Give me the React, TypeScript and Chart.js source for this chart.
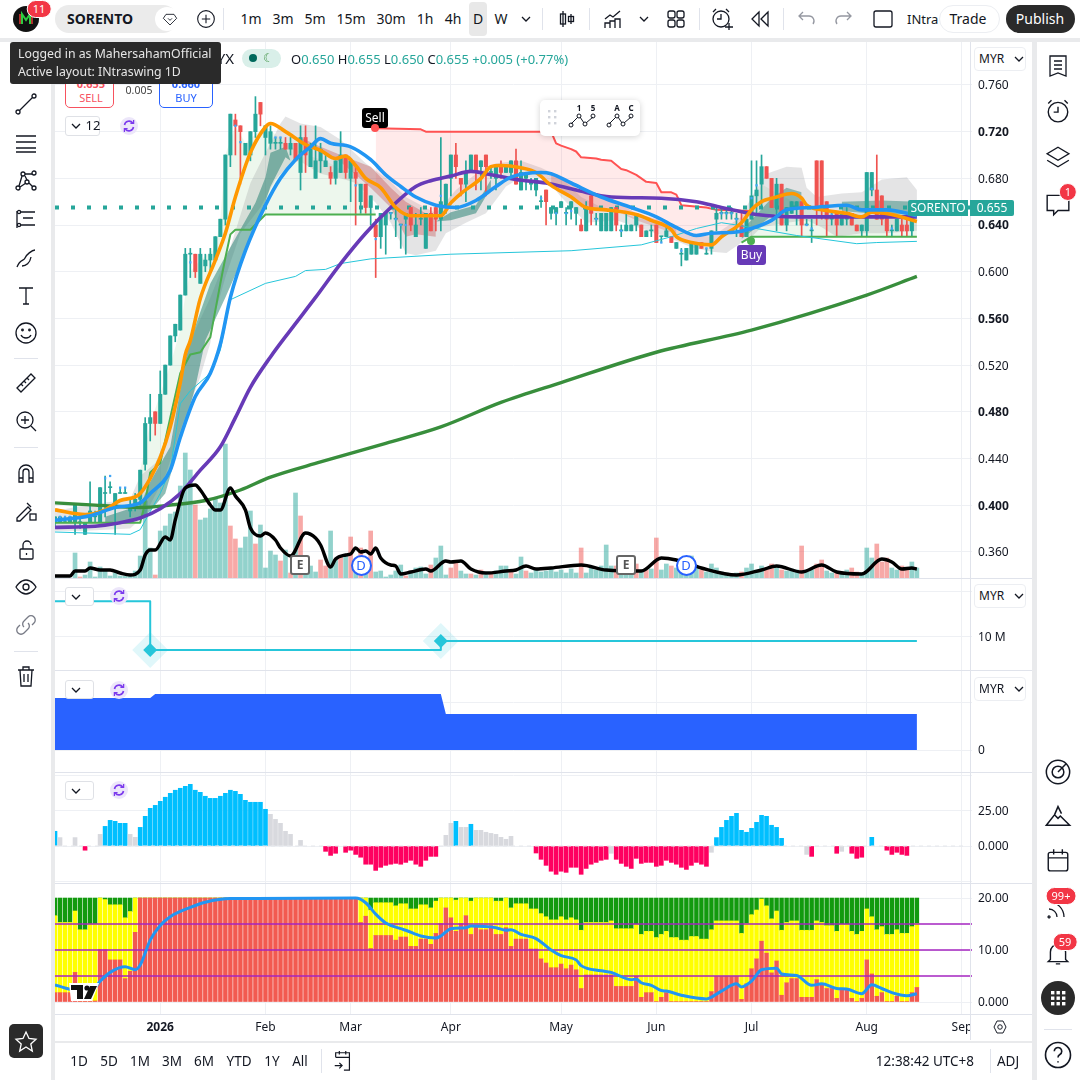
import React, { useEffect, useRef } from "react";
import { Chart, registerables } from "chart.js";

Chart.register(...registerables);

const F = "'Noto Sans', sans-serif";
const BAR_COUNT = 173;
const AXIS_SLOTS = 184;

const slotLabels = Array.from({ length: AXIS_SLOTS }, (_, i) => String(i));
const monthK = [21, 42, 59, 79, 101, 120, 139, 162, 181];
const monthLabels = ["2026", "Feb", "Mar", "Apr", "May", "Jun", "Jul", "Aug", "Sep"];
const priceTicks = [0.76, 0.72, 0.68, 0.64, 0.6, 0.56, 0.52, 0.48, 0.44, 0.4, 0.36];
const boldPriceTicks = [0.72, 0.64, 0.56, 0.48, 0.4];
const lastPrice = 0.655;

const opens = [
  .385,.385,.385,.385,.385,.385,.375,.385,.39,.385,
  .41,.415,.398,.41,.41,.395,.40,.405,.435,.47,
  .48,.47,.495,.52,.545,.55,.58,.615,.615,.59,
  .605,.61,.61,.63,.645,.70,.73,.725,.70,.70,
  .72,.745,.715,.71,.71,.71,.71,.705,.71,.685,
  .715,.69,.68,.695,.69,.685,.68,.685,.70,.68,
  .685,.66,.675,.655,.64,.63,.64,.65,.645,.64,
  .645,.655,.63,.645,.62,.65,.655,.645,.655,.68,
  .70,.68,.675,.685,.70,.69,.70,.685,.68,.69,
  .685,.685,.695,.67,.68,.675,.67,.66,.67,.65,
  .65,.655,.65,.655,.65,.64,.635,.665,.645,.635,
  .635,.635,.655,.635,.635,.635,.64,.64,.63,.635,
  .64,.63,.63,.63,.62,.615,.61,.615,.615,.625,
  .615,.62,.645,.65,.65,.65,.645,.64,.63,.645,
  .665,.675,.69,.68,.655,.675,.64,.65,.655,.66,
  .64,.635,.695,.695,.66,.645,.65,.64,.645,.65,
  .64,.635,.635,.67,.67,.665,.65,.635,.635,.64,
  .64,.635,.65,
];
const highs = [
  .39,.39,.39,.39,.40,.39,.385,.42,.395,.415,
  .425,.42,.41,.415,.415,.405,.41,.43,.475,.495,
  .48,.515,.52,.545,.555,.58,.62,.62,.615,.62,
  .615,.62,.63,.645,.70,.735,.735,.725,.71,.72,
  .75,.745,.725,.725,.715,.715,.715,.715,.71,.725,
  .725,.71,.725,.71,.70,.69,.695,.72,.70,.695,
  .69,.675,.675,.665,.645,.65,.65,.65,.655,.64,
  .65,.655,.65,.655,.65,.655,.655,.715,.675,.70,
  .71,.68,.695,.70,.70,.695,.70,.69,.69,.695,
  .69,.695,.705,.695,.685,.68,.68,.665,.67,.655,
  .655,.66,.655,.66,.655,.645,.66,.665,.65,.65,
  .65,.655,.655,.64,.65,.64,.65,.64,.635,.64,
  .64,.63,.64,.63,.625,.62,.62,.625,.625,.625,
  .62,.635,.655,.655,.655,.655,.65,.65,.65,.695,
  .695,.70,.69,.68,.68,.675,.655,.66,.66,.66,
  .645,.645,.695,.695,.66,.65,.65,.65,.655,.65,
  .64,.64,.685,.685,.70,.665,.65,.64,.645,.645,
  .645,.65,.655,
];
const lows = [
  .38,.385,.385,.385,.375,.38,.375,.385,.385,.385,
  .39,.41,.375,.41,.41,.39,.395,.40,.43,.455,
  .46,.47,.495,.52,.54,.55,.58,.595,.595,.59,
  .60,.60,.61,.63,.64,.69,.70,.675,.70,.695,
  .715,.725,.70,.705,.705,.705,.705,.70,.695,.67,
  .685,.69,.68,.685,.69,.675,.675,.685,.68,.66,
  .64,.65,.65,.64,.595,.62,.615,.645,.63,.62,
  .615,.635,.63,.64,.62,.635,.635,.635,.65,.665,
  .68,.665,.66,.685,.67,.67,.665,.68,.67,.68,
  .685,.68,.675,.67,.67,.67,.665,.655,.64,.645,
  .64,.655,.64,.645,.64,.635,.635,.64,.64,.635,
  .635,.635,.635,.63,.635,.635,.635,.63,.63,.63,
  .625,.625,.63,.625,.62,.605,.61,.615,.615,.62,
  .615,.615,.635,.645,.645,.645,.63,.63,.63,.645,
  .65,.655,.68,.655,.635,.64,.635,.65,.64,.63,
  .64,.625,.64,.645,.63,.64,.63,.64,.64,.64,
  .635,.63,.63,.665,.645,.64,.63,.63,.635,.63,
  .63,.63,.65,
];
const closes = [
  .39,.39,.385,.39,.40,.385,.385,.395,.39,.415,
  .41,.415,.41,.41,.41,.40,.405,.43,.47,.475,
  .47,.495,.52,.545,.555,.58,.615,.615,.60,.615,
  .61,.615,.63,.645,.70,.735,.725,.72,.71,.72,
  .735,.735,.725,.72,.71,.71,.705,.71,.695,.715,
  .70,.705,.695,.705,.695,.68,.695,.70,.685,.695,
  .68,.675,.655,.665,.63,.65,.65,.65,.645,.64,
  .65,.64,.64,.645,.65,.635,.645,.66,.675,.70,
  .69,.675,.685,.70,.685,.695,.69,.685,.69,.685,
  .69,.695,.675,.685,.685,.675,.68,.66,.66,.655,
  .655,.66,.65,.66,.655,.635,.655,.65,.645,.65,
  .65,.655,.64,.635,.64,.64,.65,.63,.635,.635,
  .625,.63,.635,.625,.625,.615,.62,.625,.625,.62,
  .615,.635,.65,.65,.65,.65,.645,.63,.645,.665,
  .67,.69,.68,.655,.675,.64,.655,.66,.66,.64,
  .64,.635,.655,.655,.645,.645,.64,.65,.65,.64,
  .635,.64,.685,.685,.645,.645,.635,.635,.645,.635,
  .635,.65,.655,
];

const volumes = [
  0,0,0,0,25,1,3,16,1,11, 8,2,5,2,2,4,7,22,77,30,
  3,47,52,64,66,92,125,108,73,58, 60,69,80,75,134,52,39,30,41,67,
  34,53,10,27,23,17,28,5,85,62, 5,12,6,18,12,47,18,22,22,41,
  10,30,5,47,6,7,1,3,7,13, 2,5,10,11,4,13,20,32,3,10,
  15,7,4,4,3,8,3,5,7,12, 12,7,4,21,7,5,8,6,7,10,
  6,8,5,9,5,30,5,10,8,12, 33,12,12,8,18,10,14,6,8,9,
  40,8,14,12,10,6,16,22,10,8, 6,14,10,6,5,4,5,6,10,14,
  8,12,10,14,12,8,7,9,8,32, 6,8,14,18,7,5,6,6,8,10,
  6,5,30,20,34,16,20,10,8,12, 8,16,10,
];
const volumeRedK = [5,20,28,35,36,40,45,47,49,53,54,57,59,61,63,70,75,79,80,83,85,87,91,94,105,112,116,118,120,123,129,137,142,143,145,149,152,153,156,159,160,164,165,166,169,170];

const orangeK = [0,6,10,13,16,17,19,21,23,25,26,27,29,32,34,36,39,42,43,46,50,53,56,58,60,62,65,68,71,77,79,81,85,87,89,93,96,99,103,106,110,116,119,123,124,127,131,133,137,139,141,144,147,149,150,153,158,161,163,167,172];
const orangeV = [.396,.392,.396,.404,.407,.41,.423,.441,.467,.505,.529,.541,.577,.61,.633,.664,.702,.724,.727,.72,.709,.704,.697,.699,.691,.68,.672,.655,.648,.648,.659,.667,.68,.69,.691,.689,.685,.674,.664,.655,.653,.649,.644,.636,.63,.625,.623,.63,.642,.653,.66,.664,.667,.663,.657,.653,.65,.647,.651,.649,.643];
const blueK = [0,7,12,17,19,23,25,28,31,33,35,38,42,45,48,51,53,55,59,63,66,69,72,76,80,84,88,91,97,99,103,109,115,120,124,128,131,136,139,143,146,151,158,161,166,172];
const blueV = [.387,.391,.398,.402,.41,.43,.458,.493,.513,.538,.578,.618,.657,.68,.696,.707,.714,.71,.707,.696,.683,.673,.664,.657,.655,.661,.673,.681,.685,.684,.676,.664,.655,.647,.638,.631,.633,.634,.637,.644,.653,.655,.657,.653,.653,.648];
const purpleK = [0,8,13,17,21,25,29,33,36,39,43,47,52,57,62,67,72,75,79,83,86,92,98,104,111,121,128,133,140,148,172];
const purpleV = [.381,.382,.385,.389,.397,.41,.43,.45,.475,.501,.527,.55,.578,.607,.633,.655,.673,.678,.682,.686,.684,.679,.676,.67,.664,.663,.66,.655,.649,.647,.647];
const greenMaK = [0,8,17,23,30,37,43,53,66,77,89,101,120,139,162,172];
const greenMaV = [.402,.40,.398,.40,.404,.413,.424,.437,.453,.467,.488,.505,.531,.55,.58,.596];
const cyanK = [0,15,17,21,23,25,27,31,33,35,42,48,50,54,57,63,79,103,117,123,128,133,136,148,160,164,172];
const cyanV = [.377,.375,.379,.41,.43,.487,.498,.513,.533,.576,.59,.596,.601,.602,.607,.611,.615,.618,.623,.63,.637,.642,.64,.631,.624,.625,.626];
const stepAK = [0,17,18,19,21,23,25,27,29,31,33,34,35,36,39,42,64];
const stepAV = [.385,.385,.402,.428,.436,.475,.513,.529,.531,.544,.59,.612,.632,.636,.636,.649,.649];
const stepBK = [137,139,172];
const stepBV = [.625,.63,.63];
const trendTopAK = [17,19,21,23,25,26,27,29,32,33,34,36,38,42,46,50,54,58,60,62,64];
const trendTopAV = [.43,.47,.495,.52,.55,.58,.60,.61,.62,.645,.70,.725,.71,.725,.71,.70,.695,.685,.68,.665,.65];
const trendTopBK = [138,141,145,150,155,162,172];
const trendTopBV = [.64,.675,.665,.655,.65,.65,.648];
const redLineK = [64,73,74,99,100,101,103,104,105,108,109,111,113,114,116,118,120,121,123,124,125,130,132,139];
const redLineV = [.723,.722,.72,.72,.71,.708,.705,.703,.698,.697,.696,.695,.688,.687,.683,.677,.676,.668,.668,.666,.657,.655,.653,.652];

const grayUpK = [0,6,15,17,20,23,25,28,31,35,39,42,45,46,49,53,57,62,67,70,76,80,84,88,93,97,101,105,110,122,127,131,137,139,142,146,149,150,152,157,161,165,170,172];
const grayUpV = [.395,.40,.405,.425,.436,.464,.513,.55,.578,.621,.676,.702,.727,.733,.727,.724,.713,.693,.677,.664,.65,.67,.684,.693,.695,.689,.681,.664,.653,.64,.632,.63,.647,.664,.684,.69,.689,.672,.664,.667,.668,.679,.681,.67];
const grayLoK = [0,6,15,18,22,25,29,31,32,34,37,41,44,48,53,57,60,64,67,70,72,76,78,82,86,90,93,98,101,106,112,122,127,131,134,137,139,141,146,150,153,156,161,166,172];
const grayLoV = [.378,.378,.38,.392,.425,.464,.51,.539,.565,.595,.633,.655,.679,.697,.684,.68,.676,.659,.642,.616,.614,.618,.633,.642,.65,.673,.681,.68,.664,.642,.644,.63,.621,.617,.616,.625,.63,.638,.642,.644,.638,.63,.633,.633,.635];

const tealUpK = [10,17,19,23,26,27,31,35,40,42,43,46,47];
const tealUpV = [.39,.40,.42,.45,.524,.541,.59,.621,.659,.681,.702,.707,.695];
const tealLoK = [10,17,19,22,25,28,30,34,37,41,43,46,47];
const tealLoV = [.385,.388,.395,.41,.455,.501,.541,.578,.607,.647,.673,.698,.695];
const teal2UpK = [76,79,84,87];
const teal2UpV = [.643,.651,.657,.679];
const teal2LoK = [76,79,84,87];
const teal2LoV = [.643,.644,.65,.672];
const teal3UpK = [137,143,146,149];
const teal3UpV = [.635,.663,.672,.668];
const teal3LoK = [137,143,146,149];
const teal3LoV = [.628,.648,.653,.655];
const teal4UpK = [157,165,172];
const teal4UpV = [.66,.661,.66];
const teal4LoK = [157,165,172];
const teal4LoV = [.652,.649,.649];
const redBandUpK = [49,53,57,63,67,70,72,76];
const redBandUpV = [.715,.707,.70,.69,.672,.66,.655,.645];
const redBandLoK = [49,53,57,63,67,70,72,76];
const redBandLoV = [.713,.702,.694,.672,.655,.63,.632,.63];
const redBand2UpK = [99,103,105,112,116,124];
const redBand2UpV = [.684,.676,.668,.66,.65,.64];
const redBand2LoK = [99,103,105,112,116,124];
const redBand2LoV = [.676,.664,.655,.652,.644,.632];

const blueDotK = [1,2,3,7,10,11,13,14,27,36,37,44,45,60,64,67,68,69,70,77,97,100,102,103,108,113,121,125,130,133,134,135,136,139,140,150,151,155,163,167];
const blueDotV = [.39,.39,.39,.40,.423,.425,.415,.415,.608,.725,.711,.715,.715,.674,.628,.65,.645,.64,.64,.665,.663,.65,.65,.652,.645,.635,.625,.618,.62,.65,.65,.65,.645,.663,.674,.64,.637,.649,.671,.637];

const moneyK = [0,3,4,6,7,9,11,13,15,17,18,19,20,22,23,24,26,28,29,31,32,33,35,36,38,39,41,42,44,45,47,50,52,53,55,56,58,59,60,61,62,63,64,65,67,68,69,71,74,75,78,79,81,83,86,90,92,94,96,99,105,110,117,121,124,129,136,141,144,149,153,156,161,165,167,169,171,172];
const moneyV = [2,2,7,7,10,8,8,5,3,8,23,28,28,41,38,58,90,93,88,73,68,68,90,82,68,50,42,45,38,30,22,45,40,33,11,19,23,24,30,26,27,24,30,20,13,12,4,6,9,7,17,16,17,9,5,7,8,12,9,10,13,8,7,20,18,10,3,8,12,6,13,6,4,19,16,9,10,9];

const insiderK = [0,19,77,172];
const insiderV = [15.5,8,9.4,9.4];
const insiderMarkK = [19,77];
const insiderMarkV = [8,9.4];
const areaK = [0,19,20,77,78,172];
const areaV = [52,52,56,56,36,36];

const histogram = [
  10.5,6,null,null,6,null,-3,null,null,8.3, 14,18.3,17.6,16.2,16.2,8.3,6.2,13.3,21.2,26.9,
  29,31.9,34.8,37.6,39.8,41.2,42.6,44,39.8,38.3, 35.5,34,34,35.5,37.6,39.8,39,36.9,32.6,31.2,
  31.2,31.2,26.2,22.6,19,16.2,10.5,8.3,null,4, null,null,null,null,-3.8,-6.7,-5.2,null,-4.5,-3,
  -6,-8,-13,-13,-17.4,-15.2,-13.8,-13,-12.4,-13, -11.7,-10.2,-13,-14.5,-10.2,-7.4,-7.4,null,7.6,16.2,
  17.6,13.3,13.3,15.5,11.2,11.2,9.8,9,8.3,6.2, 4.8,6.9,null,null,null,null,-5,-9.5,-13.8,-18,
  -20.2,-18,-18.8,-15.2,-15.2,-20.2,-16,-13,-11.7,-10.2, -9.5,-5.2,-9.5,-12.4,-14.5,-16,-8.8,-12.4,-11.7,-11.7,
  -14.5,-13.8,-10.2,-11.7,-13,-15.2,-16.7,-13.8,-11.7,-13, -14.5,-4.5,6,13.3,18.3,21.2,23.3,11.2,9.8,12.6,
  16.9,21.9,21.2,14.8,13.3,5.5,null,null,null,null, -6,-7.4,null,null,null,null,-5.2,-3.8,null,-5.2,
  -8.8,-8,null,6.2,null,null,-3,-6,-4.5,-6, -6.7,null,null,
];
const histogramGrayK = [1,4,9,15,16,43,44,45,46,47,49,78,79,81,82,84,85,86,87,88,89,90,91,111,131,150,157];

const redLevel = [
  1.8,1.8,1.8,1.8,5.7,.2,.2,.2,.2,10.1, 10.1,8.1,8.1,8.1,4.5,5.9,13.4,20,20,20,
  20,20,20,20,20,20,20,20,20,20, 20,20,20,20,20,20,20,20,20,20,
  20,20,20,20,20,20,20,20,20,20, 20,20,20,20,20,20,20,20,20,20,
  20,15.3,16.5,10.3,12.8,12.8,12.8,12.8,11.9,12.5, 12.5,10.7,10.7,12.1,12.1,11.1,13.2,15.1,18.1,16.2,
  13.6,15.1,16.6,13,14.7,13.9,13.9,14.7,13,13, 14.3,10.7,12.1,12.1,12.1,10.2,10.2,8.3,7.5,6.6,
  6.6,7.3,6.4,7.1,6.2,2.6,5.2,5.2,5.2,5.2, 5.2,5.2,3,3,3,3,4.9,.9,1.8,1.8,
  .1,.9,1.8,.1,.1,.1,.1,.1,.1,.1, .1,2,4.9,4.9,4.9,4.9,4.9,.5,3.5,6.4,
  8.3,11.7,9.4,5.6,7.9,1.3,3.7,4.5,4.5,.9, .9,.9,4.3,3.3,2.6,2.6,.7,2.6,2.6,.7,
  .1,.7,8.1,5.4,1.1,1.8,.1,.1,1.1,.1, .1,1.8,2.8,
];
const yellowLevel = [
  16.6,15.3,15.3,15.3,17.5,13.9,13.9,15,15,20, 19.7,18.7,18.7,18.7,16.2,17.4,20,20,20,20,
  20,20,20,20,20,20,20,20,20,20, 20,20,20,20,20,20,20,20,20,20,
  20,20,20,20,20,20,20,20,20,20, 20,20,20,20,20,20,20,20,20,20,
  20,20,20,17.7,19.1,19.1,19.1,19.1,18.5,18.9, 18.9,17.9,17.9,18.7,18.7,18.1,19.4,20,20,20,
  19.6,20,20,19.4,20,20,20,20,19.4,19.4, 20,18.1,18.9,18.9,18.9,17.9,17.9,17,16.4,15.8,
  15.8,16.4,15.8,16.2,15.8,13.8,15.3,15.3,15.3,15.3, 15.3,15.6,14.1,14.1,14.1,14.1,14.9,13,13.6,13.6,
  12.4,13,13.6,12.4,12.4,11.9,11.9,12.6,12.6,12.1, 12.1,13.9,15.6,15.6,15.6,15.6,15.6,13.2,15.1,16.8,
  17.7,19.8,18.5,16,17.5,13.8,15.3,15.6,15.6,13.8, 13.8,13.8,15.6,15.3,14.7,14.7,13.6,14.9,14.9,13.6,
  13,13.6,17.9,16.4,13.9,14.5,13,13,13.9,13.2, 13.2,14.5,15.1,
];
const levelTop = 20;
const pressureK = [0,2,7,9,11,14,16,17,19,21,23,27,30,35,40,60,62,64,66,69,70,73,76,77,79,82,83,88,90,91,93,96,99,101,104,105,109,111,115,116,117,119,121,122,125,130,133,136,137,139,141,144,145,148,151,153,156,158,161,163,165,167,170,172];
const pressureV = [3.3,2.7,1.8,4,5.7,6.8,6.2,7.1,11.9,14.7,16.4,18.2,19.2,19.9,19.9,20,19.1,16.9,15.2,14.1,13.8,12.7,12.3,12.7,14.1,14.3,14.6,14.3,13.8,13.9,13,12.2,10,8.9,8.1,7,6,5.7,4.3,4.4,3.7,3.2,2.2,2.1,1.3,.6,2.1,3.5,2.9,4,6.2,6.5,5.4,5.1,3.2,3.5,2.6,2.5,1.6,3.3,2.6,1.8,1.2,1.6];
const levelLines = [5, 10, 15];

const gridColor = "#eef0f4";
const textColor = "#131722";

function keyed(k: number[], v: number[]) {
  const out: (number | null)[] = new Array(BAR_COUNT).fill(null);
  k.forEach((kk, i) => { out[kk] = v[i]; });
  return out;
}
function flat(value: number, n: number) {
  return new Array(n).fill(value);
}
function ln(data: any[], color: string, width: number, order: number, extra: any = {}) {
  return { type: "line", data, borderColor: color, borderWidth: width, pointRadius: 0, spanGaps: true, fill: false, order, cubicInterpolationMode: "monotone", borderJoinStyle: "round", ...extra };
}
function band(upK: number[], upV: number[], loK: number[], loV: number[], color: string, order: number) {
  const hidden = { borderColor: "transparent", borderWidth: 0, cubicInterpolationMode: "default", tension: 0 };
  return [
    ln(keyed(upK, upV), "transparent", 0, order, { ...hidden, fill: { target: "+1", above: color, below: color } }),
    ln(keyed(loK, loV), "transparent", 0, order, hidden),
  ];
}
function noPadding(s: any) {
  s.paddingTop = 0;
  s.paddingBottom = 0;
  s.paddingLeft = 0;
  s.paddingRight = 0;
}

function xScale(showLabels: boolean) {
  return {
    type: "category",
    labels: slotLabels,
    offset: false,
    grid: { color: gridColor, offset: false, drawTicks: false, lineWidth: 1 },
    border: { display: false },
    afterBuildTicks: (s: any) => { s.ticks = monthK.map((value) => ({ value })); },
    afterFit: (s: any) => { s.height = showLabels ? 25 : 0; noPadding(s); },
    ticks: {
      display: showLabels,
      autoSkip: false,
      maxRotation: 0,
      minRotation: 0,
      padding: 5,
      color: textColor,
      font: (ctx: any) => ({ family: F, size: 12, weight: ctx.tick && ctx.tick.value === monthK[0] ? "bold" : "normal" }),
      callback: (v: any) => monthLabels[monthK.indexOf(v)] ?? "",
    },
  };
}
function yScale(min: number, max: number, tickVals: number[], label: (v: number) => string, bold?: (v: number) => boolean) {
  return {
    type: "linear",
    position: "right",
    min,
    max,
    grid: { color: gridColor, drawTicks: false, lineWidth: 1 },
    border: { display: false },
    afterBuildTicks: (s: any) => { s.ticks = tickVals.map((value) => ({ value })); },
    afterFit: (s: any) => { s.width = 60; noPadding(s); },
    ticks: {
      padding: 6,
      labelOffset: 1,
      color: textColor,
      autoSkip: false,
      font: (ctx: any) => ({ family: F, size: 12, weight: bold && ctx.tick && bold(ctx.tick.value) ? "bold" : "normal" }),
      callback: (v: any) => label(v),
    },
  };
}
function baseOptions(x: any, scales: any) {
  return {
    responsive: false,
    animation: false as const,
    events: [] as any[],
    layout: { autoPadding: false, padding: 0 },
    plugins: { legend: { display: false }, tooltip: { enabled: false } },
    scales: { x, ...scales },
  };
}

function priceDatasets() {
  const green = "#26a69a";
  const red = "#ef5350";
  const cColor = closes.map((c, i) => (c >= opens[i] ? green : red));
  const ds: any[] = [];
  ds.push({ type: "bar", data: volumes, yAxisID: "yVol", grouped: false, barThickness: 4, order: 40,
    backgroundColor: volumes.map((_, i) => (volumeRedK.includes(i) ? "rgba(239,83,80,.5)" : "rgba(38,166,154,.5)")) });
  ds.push(...band(grayUpK, grayUpV, grayLoK, grayLoV, "rgba(130,130,135,.22)", 34));
  ds.push(ln(keyed(trendTopAK, trendTopAV), "transparent", 0, 35, { tension: 0, cubicInterpolationMode: "default", fill: { target: "+1", above: "rgba(76,175,80,.1)", below: "rgba(76,175,80,.1)" } }));
  ds.push(ln(keyed(stepAK, stepAV), "#4caf50", 2, 12, { cubicInterpolationMode: "default", tension: 0 }));
  ds.push(ln(keyed(trendTopBK, trendTopBV), "transparent", 0, 35, { tension: 0, cubicInterpolationMode: "default", fill: { target: "+1", above: "rgba(76,175,80,.1)", below: "rgba(76,175,80,.1)" } }));
  ds.push(ln(keyed(stepBK, stepBV), "#4caf50", 2, 12, { cubicInterpolationMode: "default", tension: 0 }));
  ds.push(...band(tealUpK, tealUpV, tealLoK, tealLoV, "rgba(30,125,110,.5)", 32));
  ds.push(...band(teal2UpK, teal2UpV, teal2LoK, teal2LoV, "rgba(30,125,110,.5)", 32));
  ds.push(...band(teal3UpK, teal3UpV, teal3LoK, teal3LoV, "rgba(30,125,110,.45)", 32));
  ds.push(...band(teal4UpK, teal4UpV, teal4LoK, teal4LoV, "rgba(30,125,110,.45)", 32));
  ds.push(...band(redBandUpK, redBandUpV, redBandLoK, redBandLoV, "rgba(190,60,60,.33)", 32));
  ds.push(...band(redBand2UpK, redBand2UpV, redBand2LoK, redBand2LoV, "rgba(190,60,60,.22)", 32));
  ds.push(ln(flat(lastPrice, AXIS_SLOTS), "#26a69a", 4, 24, { borderDash: [4, 12], cubicInterpolationMode: "default", borderCapStyle: "butt" }));
  ds.push({ type: "bar", data: lows.map((l, i) => [l, highs[i]]), grouped: false, barThickness: 1, backgroundColor: cColor, order: 21 });
  ds.push({ type: "bar", data: opens.map((o, i) => [Math.min(o, closes[i]), Math.max(o, closes[i])]), grouped: false, barThickness: 3.4, minBarLength: 1, backgroundColor: cColor, order: 20 });
  ds.push(ln(keyed(blueDotK, blueDotV), "#42a5f5", 0, 18, { showLine: false, pointRadius: 1.6, pointStyle: "rect", pointBackgroundColor: "#42a5f5", pointBorderWidth: 0 }));
  ds.push(ln(keyed(cyanK, cyanV), "#26c6da", 1, 11, { cubicInterpolationMode: "default", tension: 0 }));
  ds.push(ln(keyed(greenMaK, greenMaV), "#388e3c", 3.4, 9));
  ds.push(ln(keyed(purpleK, purpleV), "#673ab7", 3.6, 8));
  ds.push(ln(keyed(orangeK, orangeV), "#ff9800", 3.6, 7));
  const orangeIndex = ds.length - 1;
  ds.push(ln(keyed(blueK, blueV), "#2196f3", 3.6, 6));
  ds.push(ln(keyed(redLineK, redLineV), "#ff5252", 2, 33, { cubicInterpolationMode: "default", tension: 0, fill: { target: orangeIndex, above: "rgba(255,82,82,.12)", below: "rgba(255,82,82,.12)" } }));
  ds.push(ln(keyed(moneyK, moneyV), "#000000", 3.4, 5, { yAxisID: "yVol" }));
  return ds;
}

function createCharts(c: HTMLCanvasElement[]) {
  const charts: Chart[] = [];
  charts.push(new Chart(c[0], {
    type: "bar",
    data: { labels: slotLabels, datasets: priceDatasets() as any },
    options: baseOptions(xScale(false), {
      y: yScale(0.3376, 0.7968, priceTicks, (v) => v.toFixed(3), (v) => boldPriceTicks.some((b) => Math.abs(b - v) < 1e-6)),
      yVol: { type: "linear", display: false, min: 0, max: 536 },
    }) as any,
  }));
  charts.push(new Chart(c[1], {
    type: "line",
    data: { labels: slotLabels, datasets: [
      ln(keyed(insiderMarkK, insiderMarkV), "transparent", 0, 3, { showLine: false, pointRadius: 7, pointStyle: "rectRot", pointBackgroundColor: "#26c6da", pointBorderWidth: 0 }),
      ln(keyed(insiderMarkK, insiderMarkV), "transparent", 0, 5, { showLine: false, pointRadius: 18, pointStyle: "rectRot", pointBackgroundColor: "rgba(38,198,218,.14)", pointBorderWidth: 0 }),
      ln(keyed(insiderK, insiderV), "#26c6da", 2, 4, { stepped: "before", cubicInterpolationMode: "default" }),
    ] as any },
    options: baseOptions(xScale(false), { y: yScale(4.92, 18.92, [17, 10], (v) => (v === 10 ? "10 M" : "")) }) as any,
  }));
  charts.push(new Chart(c[2], {
    type: "line",
    data: { labels: slotLabels, datasets: [
      ln(keyed(areaK, areaV), "#2962ff", 0, 1, { fill: "origin", backgroundColor: "#2962ff", cubicInterpolationMode: "default", tension: 0 }),
    ] as any },
    options: baseOptions(xScale(false), { y: yScale(-22, 79, [48, 0], (v) => (v === 0 ? "0" : "")) }) as any,
  }));
  charts.push(new Chart(c[3], {
    type: "bar",
    data: { labels: slotLabels, datasets: [
      { type: "bar", data: histogram, barThickness: 4, grouped: false, order: 2,
        backgroundColor: histogram.map((v, i) => (histogramGrayK.includes(i) ? "#d8d9de" : (v ?? 0) >= 0 ? "#00bfff" : "#ff0060")) },
      ln(flat(0, 183), "#e4e6ea", 1, 1, { borderDash: [4, 4], cubicInterpolationMode: "default" }),
    ] as any },
    options: baseOptions(xScale(false), { y: yScale(-26.4, 52.1, [50, 25, 0, -25], (v) => (v === 25 ? "25.00" : v === 0 ? "0.000" : "")) }) as any,
  }));
  const levelDs: any[] = [
    { type: "bar", data: redLevel.map((v) => [0, v]), backgroundColor: "#f25a50", barThickness: 3.8, grouped: false, order: 6 },
    { type: "bar", data: redLevel.map((v, i) => [v, yellowLevel[i]]), backgroundColor: "#ffff00", barThickness: 3.8, grouped: false, order: 6 },
    { type: "bar", data: yellowLevel.map((v) => [v, levelTop]), backgroundColor: "#129a0e", barThickness: 3.8, grouped: false, order: 6 },
  ];
  levelLines.forEach((v) => levelDs.push(ln(flat(v, AXIS_SLOTS), "#a424c0", 1.5, 3, { cubicInterpolationMode: "default" })));
  levelDs.push(ln(keyed(pressureK, pressureV), "#2196f3", 3, 1));
  charts.push(new Chart(c[4], {
    type: "bar",
    data: { labels: slotLabels, datasets: levelDs },
    options: baseOptions(xScale(true), { y: yScale(-2.5, 22.7, [20, 10, 0], (v) => (v === 20 ? "20.00" : v === 10 ? "10.00" : "0.000")) }) as any,
  }));
  return charts;
}

const T = ({ x, y, children, size = 13, color = textColor, weight = 400, anchor = "center", bg }: any) => (
  <div style={{
    position: "absolute", left: x, top: y, fontFamily: F, fontSize: size, color, fontWeight: weight, whiteSpace: "nowrap", background: bg,
    transform: `translate(${anchor === "center" ? "-50%" : anchor === "end" ? "-100%" : "0"},-50%)`, lineHeight: 1.2,
  }}>{children}</div>
);
const Box = ({ x, y, w, h, style }: any) => <div style={{ position: "absolute", left: x, top: y, width: w, height: h, boxSizing: "border-box", ...style }} />;
const Ic = ({ x, y, size = 24, children, stroke = "#131722", sw = 1.3, fill = "none" }: any) => (
  <svg width={size} height={size} viewBox="0 0 24 24" style={{ position: "absolute", left: x - size / 2, top: y - size / 2 }} fill={fill} stroke={stroke} strokeWidth={sw}>{children}</svg>
);
const Chevron = ({ x, y }: any) => (
  <svg width="10" height="6" viewBox="0 0 10 6" style={{ position: "absolute", left: x - 5, top: y - 3 }} fill="none" stroke="#131722" strokeWidth="1.3"><path d="M1 1l4 4 4-4" /></svg>
);
const Sync = ({ x, y }: any) => (
  <svg width="18" height="18" viewBox="0 0 18 18" style={{ position: "absolute", left: x - 9, top: y - 9 }} fill="none">
    <circle cx="9" cy="9" r="9" fill="#ece6fa" />
    <path d="M4.5 8a4.6 4.6 0 0 1 8.2-2M13.5 10a4.6 4.6 0 0 1-8.2 2" stroke="#7c3aed" strokeWidth="1.6" />
    <path d="M13.6 3v3.4h-3.2M4.4 15v-3.4h3.2" stroke="#7c3aed" strokeWidth="1.3" />
  </svg>
);
const Collapse = ({ x, y, w = 29, h = 19, text }: any) => (
  <>
    <Box x={x} y={y} w={w} h={h} style={{ background: "#fff", border: "1px solid #dfe1e6", borderRadius: 3 }} />
    <Chevron x={x + 11} y={y + h / 2} />
    {text && <T x={x + 28} y={y + h / 2} size={13}>{text}</T>}
  </>
);
const Myr = ({ y }: any) => (
  <>
    <Box x={974} y={y} w={52} h={24} style={{ background: "#fff", border: "1px solid #eceef2", borderRadius: 4 }} />
    <T x={979} y={y + 12} size={12} anchor="start">MYR</T>
    <Chevron x={1019} y={y + 12} />
  </>
);
const Wave = ({ x, a, b }: any) => (
  <>
    <svg width="30" height="16" viewBox="0 0 30 16" style={{ position: "absolute", left: x, top: 112 }} fill="none" stroke="#131722" strokeWidth="1">
      <path d="M3 12L10 5M12 5L16 11M18 11L25 5" />
      <circle cx="3" cy="13" r="2" /><circle cx="11" cy="4" r="2" /><circle cx="17" cy="12" r="2" /><circle cx="25" cy="4" r="2" />
    </svg>
    <T x={x + 11} y={108} size={8} weight={700}>{a}</T>
    <T x={x + 25} y={108} size={8} weight={700}>{b}</T>
  </>
);
const Badge = ({ x, y, text }: any) => (
  <div style={{ position: "absolute", left: x, top: y, transform: "translate(-50%,-50%)", background: "#f23645", color: "#fff", borderRadius: 9, fontFamily: F, fontSize: 11, padding: "0 5px", lineHeight: "16px", border: "1px solid #fff" }}>{text}</div>
);

const PANES = [
  { top: 42, h: 536 },
  { top: 579, h: 91 },
  { top: 671, h: 101 },
  { top: 773, h: 110 },
  { top: 884, h: 156 },
];

export default function App() {
  const refs = useRef<(HTMLCanvasElement | null)[]>([]);
  useEffect(() => {
    const charts = createCharts(refs.current as HTMLCanvasElement[]);
    return () => charts.forEach((c) => c.destroy());
  }, []);
  const sep = "#e9eaec";
  const timeframes: [string, number][] = [["1m", 251], ["3m", 283], ["5m", 315], ["15m", 351], ["30m", 391], ["1h", 425], ["4h", 453], ["D", 478], ["W", 501]];
  const ranges: [string, number][] = [["1D", 79], ["5D", 109], ["1M", 140], ["3M", 172], ["6M", 204], ["YTD", 239], ["1Y", 272], ["All", 300]];
  return (
    <div style={{ position: "fixed", left: 0, top: 0, width: 1080, height: 1080, background: "#fff", overflow: "hidden" }}>
      {PANES.map((p, i) => (
        <canvas key={i} ref={(el) => { refs.current[i] = el; }} width={977} height={p.h} style={{ position: "absolute", left: 55, top: p.top, width: 977, height: p.h, display: "block" }} />
      ))}

      {/* frame */}
      <Box x={0} y={38} w={1080} h={4} style={{ background: sep }} />
      <Box x={51} y={42} w={4} h={1038} style={{ background: sep }} />
      <Box x={1032} y={42} w={5} h={1038} style={{ background: sep }} />
      <Box x={970} y={42} w={1} h={998} style={{ background: "#e0e3eb" }} />
      {[578, 670, 772, 883].map((y) => <Box key={y} x={55} y={y} w={977} h={1} style={{ background: "#e0e3eb" }} />)}
      <Box x={55} y={1014} w={977} h={1} style={{ background: "#e0e3eb" }} />
      <Box x={55} y={1041} w={977} h={2} style={{ background: sep }} />
      <Box x={971} y={1015} w={61} h={26} style={{ background: "#fff" }} />
      <Ic x={1000} y={1027} size={18}><path d="M8 4h8l4 8-4 8H8l-4-8z" /><circle cx="12" cy="12" r="3" /></Ic>

      {/* top toolbar */}
      <svg width="28" height="28" viewBox="0 0 28 28" style={{ position: "absolute", left: 12, top: 5 }}>
        <circle cx="14" cy="14" r="13" fill="#111" />
        <path d="M8 9v10M20 9v10" stroke="#e53935" strokeWidth="1.5" /><path d="M10 19V9l4 6 4-6v10" stroke="#2ecc40" strokeWidth="2" fill="none" />
      </svg>
      <Badge x={39} y={9} text="11" />
      <Box x={55} y={5} w={122} h={28} style={{ background: "#ebebeb", borderRadius: 14 }} />
      <T x={67} y={19} size={14} weight={700} anchor="start">SORENTO</T>
      <Box x={155} y={7} w={24} h={24} style={{ background: "#fff", borderRadius: 12 }} />
      <Ic x={170} y={19} size={16}><path d="M6 5h12l4 6-10 10L2 11z" /><path d="M9 11l3 3 3-3" /></Ic>
      <Ic x={206} y={19} size={20}><circle cx="12" cy="12" r="10" /><path d="M12 7v10M7 12h10" /></Ic>
      <Box x={223} y={8} w={1} h={22} style={{ background: "#e0e3eb" }} />
      <Box x={469} y={2} w={18} h={34} style={{ background: "#e8e8e8", borderRadius: 4 }} />
      {timeframes.map(([t, x]) => <T key={t} x={x} y={19} size={14}>{t}</T>)}
      <Chevron x={526} y={19} />
      <Box x={542} y={8} w={1} h={22} style={{ background: "#e0e3eb" }} />
      <Ic x={567} y={19}><path d="M8 4v16M16 7v10" /><rect x="5.5" y="7" width="5" height="10" /><rect x="13.5" y="9.5" width="5" height="5" /></Ic>
      <Box x={589} y={8} w={1} h={22} style={{ background: "#e0e3eb" }} />
      <Ic x={613} y={19}><path d="M4 12l5-4 3 2 7-6" /><path d="M4 21v-5h5v5M9 21v-7h5v7M14 21v-9h5v9" /></Ic>
      <Chevron x={644} y={19} />
      <Ic x={676} y={19}><rect x="4" y="4" width="7" height="7" rx="2" /><rect x="13" y="4" width="7" height="7" rx="2" /><rect x="4" y="13" width="7" height="7" rx="2" /><rect x="13" y="13" width="7" height="7" rx="2" /></Ic>
      <Box x={699} y={8} w={1} h={22} style={{ background: "#e0e3eb" }} />
      <Ic x={722} y={19}><circle cx="11" cy="12" r="8" /><path d="M11 7v5H7M3 5l3-3M19 5l-3-3M19 16v7M15 20h8" /></Ic>
      <Ic x={760} y={19}><path d="M11 5l-7 7 7 7zM20 5l-7 7 7 7z" /></Ic>
      <Box x={783} y={8} w={1} h={22} style={{ background: "#e0e3eb" }} />
      <Ic x={806} y={19} stroke="#9598a1"><path d="M5 9h10a5 5 0 0 1 4 8M9 5L5 9l4 4" /></Ic>
      <Ic x={844} y={19} stroke="#9598a1"><path d="M19 9H9a5 5 0 0 0-4 8M15 5l4 4-4 4" /></Ic>
      <Ic x={883} y={19}><rect x="3" y="4" width="18" height="16" rx="2" /></Ic>
      <div style={{ position: "absolute", left: 907, top: 10, width: 31, overflow: "hidden", fontFamily: F, fontSize: 13, color: textColor, whiteSpace: "nowrap", lineHeight: "18px" }}>INtraswing</div>
      <Box x={939} y={5} w={61} h={28} style={{ background: "#fff", border: "1px solid #eceef2", borderRadius: 14 }} />
      <T x={968} y={19} size={14}>Trade</T>
      <Box x={1006} y={5} w={69} h={28} style={{ background: "#2a2a2a", borderRadius: 14 }} />
      <T x={1040} y={19} size={14} color="#fff">Publish</T>

      {/* legend */}
      <T x={234} y={58} size={15} anchor="end">YX</T>
      <Box x={242} y={49} w={39} h={19} style={{ background: "#d9efe9", borderRadius: 10 }} />
      <Box x={249} y={54} w={8} h={8} style={{ background: "#00695c", borderRadius: 4 }} />
      <T x={268} y={58} size={12} color="#388e3c">☾</T>
      <div style={{ position: "absolute", left: 291, top: 50, fontFamily: F, fontSize: 13, lineHeight: "18px", whiteSpace: "nowrap", color: "#26a69a" }}>
        <span style={{ color: textColor }}>O</span>0.650 <span style={{ color: textColor }}>H</span>0.655 <span style={{ color: textColor }}>L</span>0.650 <span style={{ color: textColor }}>C</span>0.655 +0.005 (+0.77%)
      </div>

      {/* buy / sell */}
      <Box x={65} y={72} w={49} h={36} style={{ background: "#fff", border: "1px solid #f7525f", borderRadius: 5 }} />
      <T x={91} y={98} size={11} color="#f7525f">SELL</T>
      <T x={91} y={84} size={11} color="#f7525f" weight={700}>0.655</T>
      <T x={139} y={90} size={10.5} color="#444">0.005</T>
      <Box x={159} y={72} w={54} h={36} style={{ background: "#fff", border: "1px solid #2962ff", borderRadius: 5 }} />
      <T x={186} y={98} size={11} color="#2962ff">BUY</T>
      <T x={186} y={84} size={11} color="#2962ff" weight={700}>0.660</T>

      {/* tooltip */}
      <Box x={10} y={42} w={211} h={42} style={{ background: "#2a2a2a", borderRadius: 3 }} />
      <T x={18} y={54} size={12.3} color="#e6e6e6" anchor="start">Logged in as MahersahamOfficial</T>
      <T x={18} y={72} size={12.3} color="#e6e6e6" anchor="start">Active layout: INtraswing 1D</T>

      {/* pane controls */}
      <Collapse x={65} y={116} w={35} h={20} text="12" />
      <Sync x={129} y={126} />
      <Collapse x={65} y={587} />
      <Sync x={119} y={596} />
      <Collapse x={65} y={680} />
      <Sync x={119} y={690} />
      <Collapse x={65} y={781} />
      <Sync x={119} y={790} />
      <Myr y={47} />
      <Myr y={584} />
      <Myr y={677} />

      {/* floating drawing bar */}
      <Box x={540} y={100} w={100} h={36} style={{ background: "#fff", borderRadius: 5, boxShadow: "0 1px 6px rgba(0,0,0,.18)" }} />
      <svg width="12" height="16" viewBox="0 0 12 16" style={{ position: "absolute", left: 546, top: 110 }} fill="#d0d3da">
        {[0, 6, 12].map((y) => [2, 8].map((x) => <rect key={x + "-" + y} x={x} y={y} width="2.4" height="2.4" />))}
      </svg>
      <Wave x={568} a="1" b="5" />
      <Wave x={606} a="A" b="C" />

      {/* markers */}
      <Box x={362} y={108} w={26} h={20} style={{ background: "#000", borderRadius: 3 }} />
      <T x={375} y={118} size={12} color="#fff">Sell</T>
      <Box x={371} y={124} w={8} h={8} style={{ background: "#ff5252", borderRadius: 4 }} />
      <Box x={747} y={237} w={8} h={8} style={{ background: "#4caf50", borderRadius: 4 }} />
      <Box x={737} y={245} w={29} h={20} style={{ background: "#673ab7", borderRadius: 3 }} />
      <T x={751.5} y={255} size={12} color="#fff">Buy</T>

      {/* last price */}
      <Box x={908} y={200} w={60} h={16} style={{ background: "#26a69a", borderRadius: "2px 0 0 2px" }} />
      <T x={938} y={208} size={12} color="#fff">SORENTO</T>
      <Box x={970} y={200} w={44} h={16} style={{ background: "#26a69a", borderRadius: "0 2px 2px 0" }} />
      <T x={992} y={208} size={12} color="#fff">0.655</T>

      {/* event badges */}
      {[[300, "E"], [626, "E"]].map(([x, t]) => (
        <div key={x as number} style={{ position: "absolute", left: (x as number) - 10, top: 555, width: 20, height: 20, boxSizing: "border-box", background: "#fff", border: "2px solid #666", borderRadius: 3, fontFamily: F, fontSize: 12, fontWeight: 700, color: "#555", textAlign: "center", lineHeight: "16px" }}>{t}</div>
      ))}
      {[361, 686].map((x) => (
        <div key={x} style={{ position: "absolute", left: x - 10.5, top: 555, width: 21, height: 21, boxSizing: "border-box", background: "#fff", border: "2px solid #2962ff", borderRadius: 11, fontFamily: F, fontSize: 13, color: "#2962ff", textAlign: "center", lineHeight: "17px" }}>D</div>
      ))}

      {/* watermark */}
      <svg width="34" height="20" viewBox="0 0 34 20" style={{ position: "absolute", left: 66, top: 982 }}>
        <path d="M3 1h30l-7 18H5z" fill="#fff" />
        <path d="M5 3h12v14h-6V8H5z" fill="#111" /><circle cx="21" cy="6" r="2.6" fill="#111" /><path d="M24 4h7l-6 13h-7z" fill="#111" />
      </svg>

      {/* left toolbar */}
      <Ic x={26} y={104}><circle cx="4" cy="20" r="2" /><circle cx="20" cy="4" r="2" /><path d="M5.5 18.5L18.5 5.5" /></Ic>
      <Ic x={26} y={143}><path d="M2 5h20M2 11h20M2 17h20M2 21h20" /></Ic>
      <Ic x={26} y={181}><circle cx="4" cy="19" r="2" /><circle cx="9" cy="5" r="2" /><circle cx="20" cy="4" r="2" /><circle cx="20" cy="19" r="2" /><circle cx="13" cy="13" r="2" /><path d="M5 17l3-10M11 5h7M15 14l4 4M6 18l6-4M11 7l2 4" /></Ic>
      <Ic x={26} y={219}><path d="M3 4v17M7 5h14M9 11h10M7 18h14" /><circle cx="5" cy="5" r="1.6" /><circle cx="5" cy="18" r="1.6" /></Ic>
      <Ic x={26} y={258}><path d="M3 21c3-8 7-6 8-9s7-8 10-8" /><path d="M8 20c4 0 8-3 9-9" /></Ic>
      <Ic x={26} y={295}><path d="M5 5h14M12 5v16M9 21h6" /></Ic>
      <Ic x={26} y={333}><circle cx="12" cy="12" r="10" /><path d="M7 14c2 4 8 4 10 0" /><circle cx="8.5" cy="9" r=".8" /><circle cx="15.5" cy="9" r=".8" /></Ic>
      <Box x={14} y={358} w={24} h={1} style={{ background: "#e0e3eb" }} />
      <Ic x={26} y={383}><path d="M3 17L17 3l4 4L7 21zM7 13l2 2M10 10l2 2M13 7l2 2" /></Ic>
      <Ic x={26} y={421}><circle cx="11" cy="11" r="8" /><path d="M17 17l5 5M11 7v8M7 11h8" /></Ic>
      <Box x={14} y={447} w={24} h={1} style={{ background: "#e0e3eb" }} />
      <Ic x={26} y={473}><path d="M5 21V11a7 7 0 0 1 14 0v10h-4V11a3 3 0 0 0-6 0v10zM5 17h4M15 17h4" /></Ic>
      <Ic x={26} y={511}><path d="M3 19L14 8l3 3L6 22H3zM13 4l4 4" /><rect x="16" y="15" width="6" height="6" /></Ic>
      <Ic x={26} y={550}><rect x="6" y="11" width="13" height="10" rx="1" /><path d="M9 11V7a4 4 0 0 1 8 0" /><path d="M12.5 15v2" /></Ic>
      <Ic x={26} y={587}><path d="M2 12s4-7 10-7 10 7 10 7-4 7-10 7-10-7-10-7z" /><circle cx="12" cy="12" r="3" /></Ic>
      <Ic x={26} y={625}><path d="M10 14a4 4 0 0 1 0-6l4-4a4 4 0 0 1 6 6l-2 2M14 10a4 4 0 0 1 0 6l-4 4a4 4 0 0 1-6-6l2-2" stroke="#787b86" /></Ic>
      <Box x={14} y={651} w={24} h={1} style={{ background: "#e0e3eb" }} />
      <Ic x={26} y={676}><path d="M4 6h16M9 6V3h6v3M6 6l1 16h10l1-16M10 10v8M14 10v8" /></Ic>
      <Box x={9} y={1024} w={34} h={34} style={{ background: "#2a2a2a", borderRadius: 5 }} />
      <Ic x={26} y={1041} stroke="#fff"><path d="M12 3l3 6.5 7 .8-5.2 4.7 1.5 7L12 18l-6.3 4 1.5-7L2 10.3l7-.8z" /></Ic>

      {/* right toolbar */}
      <Ic x={1058} y={66}><path d="M4 2h16v20l-8-3-8 3zM8 7h8M8 11h8M8 15h8" /></Ic>
      <Ic x={1058} y={111} size={26}><circle cx="12" cy="13" r="9" /><path d="M12 8v5H8M3 5l3-3M21 5l-3-3" /></Ic>
      <Ic x={1058} y={157} size={26}><path d="M12 3l10 6-10 6L2 9zM2 15l10 6 10-6" /></Ic>
      <Ic x={1058} y={204} size={26}><path d="M2 4h20v14H12l-4 4v-4H2z" /></Ic>
      <Badge x={1068} y={192} text="1" />
      <Ic x={1058} y={772} size={28}><circle cx="12" cy="12" r="10" /><circle cx="12" cy="12" r="5" /><path d="M12 12l7-7" /></Ic>
      <Ic x={1058} y={816} size={28}><path d="M2 20l7-9 3 3 2-2 8 8zM9 11l3-7 3 6" /></Ic>
      <Ic x={1058} y={860} size={26}><rect x="3" y="5" width="18" height="17" rx="2" /><path d="M3 10h18M8 2v5M16 2v5" /></Ic>
      <Ic x={1058} y={908} size={24}><path d="M3 20a1 1 0 1 0 .1 0M3 13a8 8 0 0 1 8 8M3 6a15 15 0 0 1 15 15" /></Ic>
      <Badge x={1061} y={896} text="99+" />
      <Ic x={1058} y={953} size={26}><path d="M5 18V11a7 7 0 0 1 14 0v7l2 2H3zM10 22h4" /></Ic>
      <Badge x={1065} y={942} text="59" />
      <Box x={1041} y={981} w={34} h={34} style={{ background: "#2a2a2a", borderRadius: 17 }} />
      <svg width="16" height="16" viewBox="0 0 16 16" style={{ position: "absolute", left: 1050, top: 990 }} fill="#fff">
        {[1, 6.5, 12].map((y) => [1, 6.5, 12].map((x) => <rect key={x + "-" + y} x={x} y={y} width="3.4" height="3.4" />))}
      </svg>
      <Box x={1044} y={1029} w={28} h={1} style={{ background: "#e0e3eb" }} />
      <Ic x={1058} y={1055} size={30}><circle cx="12" cy="12" r="10" /><path d="M9 9a3 3 0 1 1 4.5 2.6c-1 .6-1.5 1.2-1.5 2.4M12 17v1" /></Ic>

      {/* bottom bar */}
      {ranges.map(([t, x]) => <T key={t} x={x} y={1061} size={13.5}>{t}</T>)}
      <Box x={321} y={1049} w={1} h={24} style={{ background: "#e0e3eb" }} />
      <Ic x={343} y={1061} size={22}><path d="M4 8h15v14h-6M4 8V3h15v5M8 1v4M15 1v4M3 17h7M8 14l3 3-3 3" /></Ic>
      <T x={974} y={1061} size={13.5} anchor="end">12:38:42 UTC+8</T>
      <Box x={990} y={1049} w={1} h={24} style={{ background: "#e0e3eb" }} />
      <T x={1008} y={1061} size={13.5}>ADJ</T>
    </div>
  );
}
